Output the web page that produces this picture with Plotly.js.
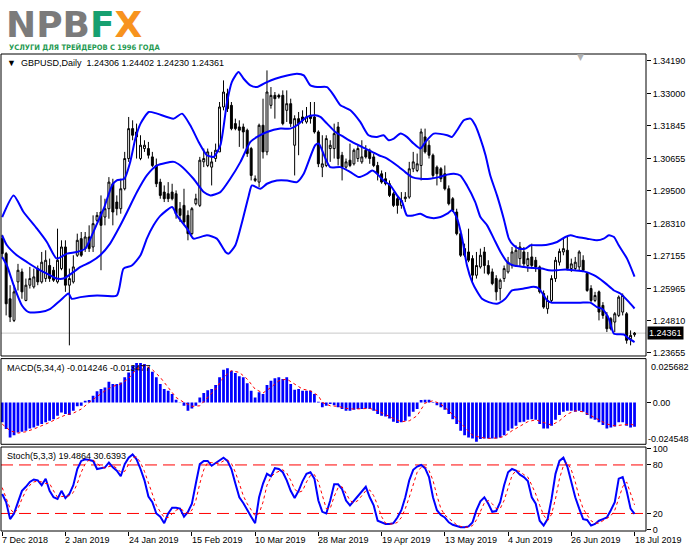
<!DOCTYPE html>
<html><head><meta charset="utf-8">
<script src="https://cdn.plot.ly/plotly-3.0.1.min.js"></script>
<style>html,body{margin:0;padding:0;background:#fff}#chart{width:691px;height:549px}</style>
</head><body><div id="chart"></div>
<script>
const tickIdx = [0,16,32,48,64,80,96,112,128,144,160];
const tickLabels = ['7 Dec 2018','2 Jan 2019','24 Jan 2019','15 Feb 2019','10 Mar 2019','28 Mar 2019','19 Apr 2019','13 May 2019','4 Jun 2019','26 Jun 2019','18 Jul 2019'];
const priceTicks = [1.34190,1.33000,1.31845,1.30655,1.29500,1.28310,1.27155,1.25965,1.24810,1.23655];

const OPEN = [1.2777,1.2723,1.2560,1.2482,1.2621,1.2657,1.2554,1.2609,1.2603,1.2669,1.2621,1.2633,1.2680,1.2663,1.2621,1.2669,1.2747,1.2609,1.2621,1.2717,
1.2777,1.2741,1.2783,1.2747,1.2843,1.2873,1.2855,1.2885,1.2975,1.2909,1.2885,1.2957,1.3066,1.3174,1.3162,1.3066,1.3102,1.3102,1.3072,1.3041,
1.2981,1.2945,1.2939,1.2945,1.2939,1.2885,1.2897,1.2861,1.2795,1.2903,1.2897,1.3054,1.3041,1.3035,1.3066,1.3090,1.3252,1.3300,1.3258,1.3192,
1.3180,1.3180,1.3168,1.3102,1.2987,1.2981,1.3186,1.3090,1.3258,1.3294,1.3294,1.3294,1.3240,1.3264,1.3114,1.3210,1.3216,1.3198,1.3222,1.3216,
1.3162,1.3035,1.3041,1.3102,1.3102,1.3180,1.3078,1.3035,1.3060,1.3047,1.3066,1.3054,1.3096,1.3096,1.3072,1.3041,1.3011,1.2993,1.2975,1.2939,
1.2921,1.2897,1.2921,1.2927,1.3029,1.3023,1.3041,1.3144,1.3114,1.3078,1.3035,1.3029,1.3011,1.2957,1.2921,1.2873,1.2795,1.2741,1.2729,1.2705,
1.2645,1.2675,1.2729,1.2680,1.2657,1.2633,1.2597,1.2633,1.2657,1.2680,1.2680,1.2705,1.2729,1.2680,1.2711,1.2699,1.2675,1.2579,1.2524,1.2554,
1.2633,1.2692,1.2729,1.2735,1.2669,1.2669,1.2675,1.2699,1.2651,1.2597,1.2554,1.2585,1.2536,1.2500,1.2488,1.2476,1.2500,1.2512,1.2506,1.2416,
1.24306];
const HIGH = [1.2791,1.2729,1.2609,1.2609,1.2686,1.2669,1.2633,1.2675,1.2669,1.2680,1.2729,1.2735,1.2705,1.2675,1.2813,1.2771,1.2771,1.2669,1.2717,1.2795,
1.2801,1.2801,1.2825,1.2861,1.2873,1.2933,1.2921,1.2999,1.2993,1.2933,1.2993,1.3090,1.3216,1.3204,1.3192,1.3150,1.3132,1.3126,1.3090,1.3066,
1.2993,1.2969,1.2981,1.2975,1.2951,1.2909,1.2957,1.2879,1.2891,1.2939,1.3072,1.3102,1.3102,1.3090,1.3120,1.3270,1.3348,1.3318,1.3270,1.3210,
1.3204,1.3192,1.3174,1.3108,1.3005,1.3192,1.3282,1.3384,1.3324,1.3306,1.3300,1.3312,1.3312,1.3282,1.3222,1.3234,1.3240,1.3252,1.3270,1.3270,
1.3168,1.3150,1.3150,1.3132,1.3192,1.3198,1.3090,1.3066,1.3120,1.3102,1.3114,1.3132,1.3114,1.3102,1.3084,1.3054,1.3023,1.3017,1.2987,1.2945,
1.2933,1.2945,1.2945,1.3054,1.3090,1.3084,1.3174,1.3174,1.3132,1.3084,1.3041,1.3035,1.3041,1.2969,1.2927,1.2885,1.2807,1.2759,1.2813,1.2717,
1.2729,1.2741,1.2747,1.2699,1.2669,1.2645,1.2633,1.2680,1.2711,1.2747,1.2753,1.2765,1.2747,1.2729,1.2759,1.2711,1.2680,1.2590,1.2572,1.2645,
1.2711,1.2741,1.2777,1.2783,1.2705,1.2711,1.2735,1.2717,1.2657,1.2609,1.2585,1.2590,1.2548,1.2512,1.2494,1.2512,1.2572,1.2579,1.2512,1.2446,
1.24402];
const LOW = [1.2705,1.2500,1.2476,1.2476,1.2590,1.2560,1.2551,1.2597,1.2597,1.2609,1.2615,1.2621,1.2621,1.2621,1.2615,1.2663,1.2585,1.2392,1.2615,1.2711,
1.2711,1.2729,1.2729,1.2729,1.2837,1.2663,1.2825,1.2849,1.2825,1.2861,1.2867,1.2951,1.3054,1.3132,1.3066,1.3060,1.3090,1.3066,1.3035,1.2963,
1.2921,1.2909,1.2909,1.2915,1.2849,1.2837,1.2825,1.2771,1.2789,1.2897,1.2891,1.3035,1.3035,1.2969,1.3054,1.3090,1.3240,1.3234,1.3168,1.3168,
1.3108,1.3102,1.3072,1.2987,1.2981,1.2963,1.3066,1.3078,1.3246,1.3210,1.3282,1.3186,1.3198,1.3180,1.3005,1.3078,1.3192,1.3192,1.3192,1.3156,
1.3035,1.2999,1.3035,1.3054,1.3066,1.3041,1.2987,1.3029,1.3035,1.3041,1.3054,1.3047,1.3066,1.3047,1.3035,1.2987,1.2975,1.2969,1.2927,1.2891,
1.2867,1.2885,1.2909,1.2921,1.3017,1.3017,1.2987,1.3084,1.3066,1.2993,1.2969,1.2981,1.2951,1.2897,1.2873,1.2789,1.2711,1.2711,1.2692,1.2621,
1.2633,1.2669,1.2651,1.2645,1.2609,1.2554,1.2554,1.2621,1.2651,1.2669,1.2675,1.2675,1.2675,1.2657,1.2669,1.2657,1.2579,1.2524,1.2506,1.2548,
1.2621,1.2680,1.2717,1.2663,1.2657,1.2663,1.2663,1.2657,1.2585,1.2548,1.2548,1.2482,1.2488,1.2440,1.2446,1.2440,1.2494,1.2500,1.2398,1.2392,
1.24230];
const CLOSE = [1.2723,1.2542,1.2494,1.2585,1.2663,1.2585,1.2609,1.2633,1.2639,1.2621,1.2692,1.2699,1.2633,1.2627,1.2699,1.2747,1.2609,1.2633,1.2675,1.2771,
1.2717,1.2783,1.2741,1.2831,1.2861,1.2825,1.2885,1.2981,1.2873,1.2885,1.2957,1.3066,1.3174,1.3150,1.3144,1.3114,1.3114,1.3078,1.3041,1.2975,
1.2933,1.2921,1.2921,1.2921,1.2867,1.2861,1.2837,1.2795,1.2885,1.2921,1.3060,1.3066,1.3090,1.3054,1.3096,1.3252,1.3306,1.3246,1.3174,1.3174,
1.3168,1.3162,1.3084,1.3005,1.2993,1.3186,1.3090,1.3306,1.3294,1.3282,1.3288,1.3192,1.3264,1.3192,1.3210,1.3192,1.3204,1.3216,1.3210,1.3162,
1.3047,1.3047,1.3138,1.3114,1.3156,1.3066,1.3035,1.3054,1.3041,1.3096,1.3102,1.3072,1.3072,1.3066,1.3041,1.3011,1.2981,1.2975,1.2933,1.2897,
1.2897,1.2915,1.2927,1.3029,1.3054,1.3047,1.3162,1.3090,1.3078,1.3005,1.3011,1.2993,1.2957,1.2903,1.2879,1.2795,1.2717,1.2717,1.2699,1.2645,
1.2680,1.2717,1.2680,1.2651,1.2615,1.2585,1.2627,1.2669,1.2692,1.2729,1.2735,1.2747,1.2686,1.2705,1.2680,1.2675,1.2585,1.2530,1.2554,1.2633,
1.2699,1.2731,1.2741,1.2669,1.2686,1.2692,1.2729,1.2663,1.2590,1.2554,1.2572,1.2512,1.2500,1.2452,1.2452,1.2506,1.2566,1.2572,1.2410,1.2428,
1.24361];

const upperX = [0,2.9,5.4,8.8,11.3,13.8,16.4,18.9,21.0,22.7,24.0,25.7,27.8,29.0,30.9,32.4,33.7,35.0,37.1,39.2,
43.4,45.5,47.6,49.7,51.8,53.5,55.2,56.9,58.1,59.8,61.1,62.8,64.5,67.0,69.1,72.1,74.6,76.3,78.0,79.7,
82.2,83.9,85.6,88.1,90.6,92.7,94.8,96.5,97.8,99.1,100.8,102.4,104.1,105.8,107.1,109.2,112.6,113.8,115.1,116.8,118.5,119.7,121.0,122.3,
123.5,125.2,126.9,128.2,129.4,130.7,132.4,133.7,135.8,137.9,140.4,142.5,143.8,145.5,148.0,150.5,152.2,153.5,154.8,156.0,158.1,160];
const upperBand = [1.2855,1.2933,1.2873,1.2813,1.2765,1.2705,1.2723,1.2729,1.2741,1.2789,1.2831,1.2885,1.2969,1.2987,1.2993,1.3054,1.3138,1.3192,1.3234,1.3228,
1.3210,1.3228,1.3186,1.3126,1.3078,1.3072,1.3114,1.3270,1.3342,1.3378,1.3354,1.3330,1.3324,1.3342,1.3354,1.3366,1.3372,1.3366,1.3330,1.3324,
1.3324,1.3294,1.3258,1.3240,1.3198,1.3150,1.3144,1.3150,1.3132,1.3138,1.3156,1.3144,1.3120,1.3102,1.3126,1.3156,1.3150,1.3144,1.3168,1.3204,1.3210,1.3186,1.3138,1.3078,
1.3005,1.2933,1.2849,1.2777,1.2753,1.2741,1.2741,1.2753,1.2753,1.2755,1.2765,1.2783,1.2789,1.2783,1.2777,1.2771,1.2777,1.2789,1.2783,1.2753,1.2705,1.2640];
const midX = [0,1.2,3.7,6.3,8.8,11.3,13.8,15.5,18.1,19.8,22.3,24.8,27.3,29.9,31.6,34.1,36.6,39.2,
43.4,45.1,48.4,51.0,52.7,55.2,57.7,60.3,62.8,64.5,67.0,70.4,72.9,74.6,77.1,79.2,
80.5,82.2,84.3,86.4,88.5,91.0,93.6,95.3,97.4,99.9,102.0,103.7,105.8,108.3,110.5,112.6,114.3,115.9,117.6,119.7,121.0,
122.7,124.4,126.1,127.8,129.4,132.0,134.5,136.6,138.3,140.4,142.5,144.6,147.2,149.7,152.2,154.8,156.4,158.6,160];
const midBand = [1.2789,1.2753,1.2717,1.2692,1.2669,1.2651,1.2633,1.2633,1.2657,1.2675,1.2692,1.2717,1.2759,1.2825,1.2873,1.2945,1.3005,1.3041,
1.3054,1.3041,1.2993,1.2945,1.2933,1.2945,1.2993,1.3054,1.3126,1.3144,1.3162,1.3174,1.3174,1.3186,1.3216,1.3222,
1.3216,1.3192,1.3162,1.3144,1.3126,1.3108,1.3090,1.3078,1.3066,1.3041,1.3017,1.2999,1.2993,1.2993,1.2999,1.3008,1.3011,1.3005,1.2969,1.2909,1.2855,
1.2825,1.2777,1.2729,1.2692,1.2680,1.2675,1.2671,1.2669,1.2663,1.2663,1.2666,1.2663,1.2659,1.2645,1.2621,1.2590,1.2579,1.2548,1.2525];
const lowX = [0,1.2,2.9,5.0,6.7,9.6,12.2,14.7,16.8,17.6,19.8,24.0,29.0,30.7,32.8,35.0,36.6,38.3,40.0,
43.0,44.2,46.8,48.4,51.8,54.3,56.5,57.3,59.0,60.7,62.4,63.2,65.3,67.0,69.5,72.1,74.6,76.3,79.2,80.1,
81.8,83.0,85.6,88.1,90.2,92.3,93.6,94.4,96.5,98.2,99.9,101.2,102.4,104.1,105.8,107.5,109.2,110.9,112.6,113.8,115.1,116.4,117.6,118.9,120.2,121.4,
123.1,125.2,127.3,129.0,132.0,134.5,135.8,137.9,139.1,142.1,146.3,148.8,150.5,151.8,153.5,154.8,157.3,158.6,160];
const lowBand = [1.2711,1.2680,1.2609,1.2536,1.2512,1.2512,1.2524,1.2554,1.2579,1.2560,1.2566,1.2572,1.2572,1.2669,1.2680,1.2717,1.2777,1.2825,1.2859,
1.2891,1.2861,1.2813,1.2777,1.2789,1.2777,1.2729,1.2723,1.2753,1.2837,1.2933,1.2969,1.2957,1.2975,1.2987,1.2987,1.2981,1.3011,1.3114,1.3120,
1.3066,1.3035,1.3035,1.3017,1.2999,1.3011,1.3023,1.3017,1.2987,1.2969,1.2933,1.2909,1.2861,1.2861,1.2867,1.2855,1.2851,1.2855,1.2867,1.2879,1.2849,1.2777,1.2680,1.2621,1.2585,1.2560,
1.2548,1.2542,1.2560,1.2590,1.2597,1.2603,1.2597,1.2554,1.2546,1.2546,1.2546,1.2546,1.2530,1.2524,1.2488,1.2434,1.2431,1.2416,1.2404];

const macdHist = [-0.0117,-0.0156,-0.0205,-0.0192,-0.0176,-0.0172,-0.0166,-0.0153,-0.0147,-0.0137,-0.0127,-0.0117,-0.0108,-0.0098,-0.0078,-0.0059,-0.0068,-0.0074,-0.0049,-0.0023,
-0.0020,0.0010,0.0014,0.0039,0.0065,0.0078,0.0088,0.0121,0.0108,0.0108,0.0117,0.0147,0.0176,0.0215,0.0231,0.0231,0.0225,0.0205,0.0180,0.0147,
0.0108,0.0078,0.0068,0.0049,0.0016,-0.0002,-0.0020,-0.0049,-0.0035,-0.0020,0.0029,0.0055,0.0072,0.0078,0.0102,0.0147,0.0192,0.0200,0.0186,0.0172,
0.0153,0.0147,0.0113,0.0068,0.0029,0.0059,0.0049,0.0102,0.0127,0.0141,0.0147,0.0137,0.0147,0.0108,0.0074,0.0078,0.0068,0.0068,0.0068,0.0049,
0.0004,-0.0029,-0.0020,-0.0010,-0.0016,-0.0029,-0.0039,-0.0049,-0.0049,-0.0043,-0.0039,-0.0039,-0.0035,-0.0039,-0.0049,-0.0068,-0.0078,-0.0082,-0.0094,-0.0113,
-0.0121,-0.0117,-0.0108,-0.0082,-0.0055,-0.0039,0.0014,0.0016,0.0016,-0.0004,-0.0016,-0.0029,-0.0043,-0.0068,-0.0098,-0.0127,-0.0166,-0.0192,-0.0205,-0.0211,
-0.0231,-0.0215,-0.0211,-0.0211,-0.0211,-0.0211,-0.0205,-0.0192,-0.0166,-0.0153,-0.0137,-0.0117,-0.0113,-0.0102,-0.0098,-0.0102,-0.0127,-0.0153,-0.0153,-0.0137,
-0.0102,-0.0074,-0.0055,-0.0049,-0.0049,-0.0055,-0.0049,-0.0055,-0.0074,-0.0094,-0.0102,-0.0117,-0.0133,-0.0153,-0.0147,-0.0141,-0.0117,-0.0117,-0.0137,-0.0147,
-0.014246];
const macdSigX = [0,2,4,6,8,10,12,14,16,18,20,22,24,26,28,30,32,34,36,38,40,42,44,46,48,50,52,54,56,58,60,62,64,66,68,70,72,74,76,78,80,
81,83,85,87,89,91,93,95,97,99,101,103,105,107,109,111,113,115,117,119,121,123,125,127,129,131,133,135,137,139,141,143,145,147,149,151,153,155,157,159,160];
const macdSignal = [-0.0127,-0.0166,-0.0180,-0.0172,-0.0156,-0.0137,-0.0117,-0.0094,-0.0074,-0.0063,-0.0039,0.0000,0.0035,0.0068,0.0094,0.0108,0.0141,0.0196,0.0219,0.0192,0.0147,
0.0088,0.0029,0.0000,-0.0023,-0.0020,0.0029,0.0078,0.0147,0.0186,0.0176,0.0137,0.0078,0.0055,0.0088,0.0127,0.0137,0.0108,0.0078,0.0068,0.0039,
0.0000,-0.0020,-0.0023,-0.0035,-0.0039,-0.0039,-0.0035,-0.0049,-0.0074,-0.0094,-0.0113,-0.0108,-0.0078,-0.0004,0.0010,-0.0010,-0.0049,-0.0098,-0.0147,-0.0192,
-0.0205,-0.0211,-0.0209,-0.0200,-0.0166,-0.0137,-0.0113,-0.0102,-0.0117,-0.0133,-0.0108,-0.0068,-0.0049,-0.0055,-0.0078,-0.0102,-0.0127,-0.0137,-0.0133,-0.0127,-0.013477];

const stochMain = [44,34,13,20,34,48,53,59,62,61,55,63,48,40,38,48,39,44,55,75,
85,87,86,85,75,76,77,83,77,73,66,81,89,93,87,75,61,41,34,20,
16,8,20,27,27,26,16,22,32,57,81,85,85,79,82,85,89,85,75,57,
40,33,24,16,8,40,57,69,66,76,75,71,61,48,39,48,60,69,71,63,
36,22,20,36,56,56,50,36,30,36,42,48,53,40,30,11,9,7,7,8,
15,24,40,61,74,78,80,76,65,40,24,18,15,9,6,4,3,3,4,9,
24,35,40,32,22,23,34,55,71,75,73,68,65,60,40,32,11,5,13,38,
69,85,89,78,57,40,26,13,12,5,7,11,13,15,24,34,63,65,48,26,
19.4864];
const stochSignal = [52,40,26,20,26,38,48,55,59,60,59,57,57,48,40,41,41,42,46,57,
71,81,86,86,82,78,76,78,79,76,71,72,81,89,90,83,72,57,42,30,
22,15,15,19,24,26,23,20,24,36,57,74,83,83,82,82,85,86,82,71,
57,42,32,24,17,20,34,55,65,70,72,74,70,61,50,46,48,59,67,68,
59,41,26,26,41,52,53,45,36,33,36,42,48,49,42,30,16,8,7,7,
9,15,26,40,57,71,77,78,73,61,42,26,18,14,9,6,4,3,3,5,
12,22,33,36,32,26,26,36,53,67,73,72,68,65,55,44,30,18,11,19,
38,63,79,83,74,59,40,26,18,11,8,8,11,14,17,24,38,53,59,46,
30.6393];
const stochLevels = [20, 80];

const idx = OPEN.map((_, i) => i);
const lastClose = CLOSE[CLOSE.length - 1];
const FONT = 'Liberation Sans, Arial, sans-serif';
const BLUE = '#0000ff';

const traces = [
  {type:'scatter', mode:'lines', x:upperX, y:upperBand, line:{color:BLUE, width:2, shape:'spline', smoothing:0.6}, hoverinfo:'skip'},
  {type:'scatter', mode:'lines', x:midX, y:midBand, line:{color:BLUE, width:2, shape:'spline', smoothing:0.6}, hoverinfo:'skip'},
  {type:'scatter', mode:'lines', x:lowX, y:lowBand, line:{color:BLUE, width:2, shape:'spline', smoothing:0.6}, hoverinfo:'skip'},
  {type:'candlestick', x:idx, open:OPEN, high:HIGH, low:LOW, close:CLOSE, whiskerwidth:0,
   increasing:{line:{color:'#000', width:1}, fillcolor:'#ffffff'},
   decreasing:{line:{color:'#000', width:1}, fillcolor:'#000000'}, hoverinfo:'skip'},
  {type:'bar', x:idx, y:macdHist, yaxis:'y2', marker:{color:BLUE, line:{width:0}}, hoverinfo:'skip'},
  {type:'scatter', mode:'lines', x:macdSigX, y:macdSignal, yaxis:'y2', line:{color:'#ff0000', width:1, dash:'dot'}, hoverinfo:'skip'},
  {type:'scatter', mode:'lines', x:idx, y:stochMain, yaxis:'y3', line:{color:BLUE, width:2}, hoverinfo:'skip'},
  {type:'scatter', mode:'lines', x:idx, y:stochSignal, yaxis:'y3', line:{color:'#ff0000', width:1, dash:'dot'}, hoverinfo:'skip'}
];

const axisFont = {family:FONT, size:9, color:'#000'};
const shapes = [
  {type:'rect', xref:'x domain', yref:'y domain', x0:0, x1:1, y0:0, y1:1, line:{color:'#000', width:1}},
  {type:'rect', xref:'x domain', yref:'y2 domain', x0:0, x1:1, y0:0, y1:1, line:{color:'#000', width:1}},
  {type:'rect', xref:'x domain', yref:'y3 domain', x0:0, x1:1, y0:0, y1:1, line:{color:'#000', width:1}},
  {type:'line', xref:'x domain', yref:'y', x0:0, x1:1, y0:lastClose, y1:lastClose, line:{color:'#c8c8c8', width:1}, layer:'below'}
];
stochLevels.forEach(v => shapes.push({type:'line', xref:'x domain', yref:'y3', x0:0, x1:1, y0:v, y1:v, line:{color:'#ff0000', width:1, dash:'12px,6px'}, layer:'below'}));

const annotations = [
  {xref:'paper', yref:'paper', x:0, y:1, xanchor:'left', yanchor:'top', xshift:3, yshift:46, height:28, valign:'middle', showarrow:false,
   text:'<b><span style="color:#7b7b7b">NPB</span><span style="color:#16a070">F</span><span style="color:#f7931e">X</span></b>',
   font:{family:'DejaVu Sans, sans-serif', size:36}},
  {xref:'paper', yref:'paper', x:0, y:1, xanchor:'left', yanchor:'bottom', xshift:6, yshift:0, showarrow:false,
   text:'<b>УСЛУГИ ДЛЯ ТРЕЙДЕРОВ С 1996 ГОДА</b>', font:{family:'DejaVu Sans Condensed, DejaVu Sans, sans-serif', size:7.5, color:'#1f9a52'}},
  {xref:'paper', yref:'y domain', x:0, y:1, xanchor:'left', yanchor:'top', xshift:4, yshift:-2, showarrow:false,
   text:'▼  GBPUSD,Daily  1.24306 1.24402 1.24230 1.24361', font:axisFont},
  {xref:'paper', yref:'y2 domain', x:0, y:1, xanchor:'left', yanchor:'top', xshift:4, yshift:-2, showarrow:false,
   text:'MACD(5,34,4) -0.014246 -0.013477', font:axisFont},
  {xref:'paper', yref:'y3 domain', x:0, y:1, xanchor:'left', yanchor:'top', xshift:4, yshift:-2, showarrow:false,
   text:'Stoch(5,3,3) 19.4864 30.6393', font:axisFont},
  {xref:'paper', yref:'y', x:1, y:lastClose, xanchor:'left', yanchor:'middle', xshift:1, showarrow:false,
   text:lastClose.toFixed(5), bgcolor:'#000', borderpad:1, font:{family:FONT, size:9, color:'#fff'}},
  {xref:'paper', yref:'y2 domain', x:1, y:1, xanchor:'left', yanchor:'top', xshift:3, yshift:-1, showarrow:false,
   text:'0.025682', font:axisFont},
  {xref:'paper', yref:'y2 domain', x:1, y:0, xanchor:'left', yanchor:'bottom', xshift:0, yshift:-2, showarrow:false,
   text:'-0.024548', font:axisFont},
  {xref:'paper', yref:'paper', x:0.898, y:1, xanchor:'center', yanchor:'top', yshift:4, showarrow:false,
   text:'▼', font:{family:'DejaVu Sans', size:9, color:'#b0b0b0'}}
];
tickIdx.forEach((t, k) => annotations.push({xref:'x', yref:'paper', x:t, y:0, xanchor:'left', yanchor:'top', xshift:-2, yshift:-2,
  showarrow:false, text:tickLabels[k], font:axisFont}));

const layout = {
  width:691, height:549,
  margin:{l:1, r:45, t:54, b:18},
  paper_bgcolor:'#fff', plot_bgcolor:'#fff',
  showlegend:false, bargap:0.3,
  xaxis:{range:[-0.3, 162.9], anchor:'y3', tickvals:tickIdx, showticklabels:false, ticks:'outside', ticklen:4, tickcolor:'#000',
         showgrid:false, zeroline:false, showline:false, rangeslider:{visible:false}, fixedrange:true},
  yaxis:{domain:[0.3669, 1], range:[1.23536, 1.34432], side:'right', anchor:'x', tickvals:priceTicks, ticktext:priceTicks.map(v => v.toFixed(5)),
         ticks:'outside', ticklen:4, tickcolor:'#000', tickfont:axisFont, showgrid:false, zeroline:false, showline:false},
  yaxis2:{domain:[0.1818, 0.3614], range:[-0.024548, 0.025682], side:'right', anchor:'x', tickvals:[0], ticktext:['0.00'],
         ticks:'outside', ticklen:4, tickcolor:'#000', tickfont:axisFont, showgrid:false, zeroline:false, showline:false},
  yaxis3:{domain:[0, 0.1761], range:[-1.7, 102.2], side:'right', anchor:'x', tickvals:[100,80,20,0], ticktext:['100','80','20','0'],
         ticks:'outside', ticklen:4, tickcolor:'#000', tickfont:axisFont, showgrid:false, zeroline:false, showline:false},
  shapes:shapes, annotations:annotations
};
Plotly.newPlot('chart', traces, layout, {staticPlot:true, displayModeBar:false});
</script></body></html>
